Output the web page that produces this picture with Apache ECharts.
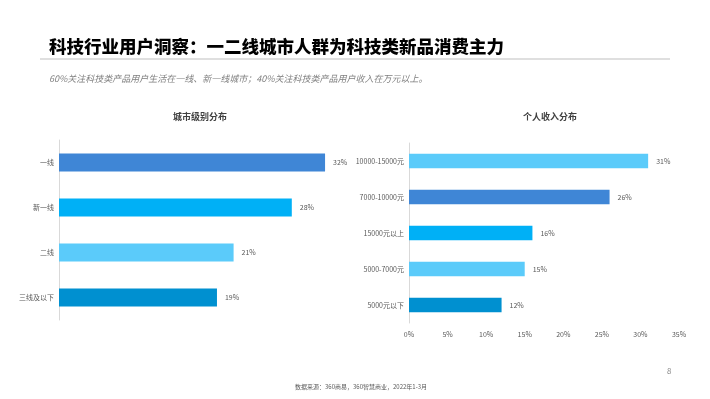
<!DOCTYPE html>
<html>
<head>
<meta charset="utf-8">
<script src="https://cdn.jsdelivr.net/npm/echarts@6/dist/echarts.min.js"></script>
<style>
  html, body { margin: 0; padding: 0; background: #fff; }
  #chart { width: 710px; height: 399px; }
</style>
</head>
<body>
<div id="chart"></div>
<script>
  // 城市级别分布
  var cityLevels = ['一线', '新一线', '二线', '三线及以下'];
  var cityValues = [32, 28, 21, 19];
  var cityColors = ['#3f86d6', '#00b0f6', '#5bcbfa', '#0090d0'];

  // 个人收入分布
  var incomeLevels = ['10000-15000元', '7000-10000元', '15000元以上', '5000-7000元', '5000元以下'];
  var incomeValues = [31, 26, 16, 15, 12];
  var incomeColors = ['#5bcbfa', '#3f86d6', '#00b0f6', '#5bcbfa', '#0090d0'];

  var font = '"Noto Sans CJK SC", "Microsoft YaHei", sans-serif';

  var chart = echarts.init(document.getElementById('chart'));

  function coloredData(values, colors) {
    return values.map(function (v, i) {
      return { value: v, itemStyle: { color: colors[i] } };
    });
  }

  chart.setOption({
    animation: false,
    textStyle: { fontFamily: font },
    title: [
      {
        text: '科技行业用户洞察：一二线城市人群为科技类新品消费主力',
        left: 44, top: 33,
        textStyle: { fontSize: 17.5, fontWeight: 900, color: '#000', fontFamily: font }
      },
      {
        text: '60%关注科技类产品用户生活在一线、新一线城市；40%关注科技类产品用户收入在万元以上。',
        left: 44, top: 69,
        textStyle: { fontSize: 9, fontStyle: 'italic', fontWeight: 'normal', color: '#7f7f7f', fontFamily: font }
      },
      {
        text: '城市级别分布',
        left: 195, top: 107, textAlign: 'center',
        textStyle: { fontSize: 9, fontWeight: 'bold', color: '#404040', fontFamily: font }
      },
      {
        text: '个人收入分布',
        left: 545, top: 107, textAlign: 'center',
        textStyle: { fontSize: 9, fontWeight: 'bold', color: '#404040', fontFamily: font }
      },
      {
        text: '8',
        left: 662, top: 362,
        textStyle: { fontSize: 8, fontWeight: 'normal', color: '#8c8c8c', fontFamily: font }
      },
      {
        text: '数据来源：360商易，360智慧商业，2022年1-3月',
        left: 290, top: 379,
        textStyle: { fontSize: 6, fontWeight: 'normal', color: '#595959', fontFamily: font }
      }
    ],
    graphic: [
      {
        type: 'line',
        shape: { x1: 40, y1: 59, x2: 670, y2: 59 },
        style: { stroke: '#bfbfbf', lineWidth: 1 }
      }
    ],
    grid: [
      { left: 59, top: 140, width: 291, height: 180 },
      { left: 409, top: 143, width: 270, height: 180 }
    ],
    xAxis: [
      {
        gridIndex: 0, type: 'value', min: 0, max: 35, show: false
      },
      {
        gridIndex: 1, type: 'value', min: 0, max: 35, interval: 5,
        axisLine: { show: false },
        axisTick: { show: false },
        splitLine: { show: false },
        axisLabel: { formatter: '{value}%', fontSize: 7, color: '#595959', margin: 8 }
      }
    ],
    yAxis: [
      {
        gridIndex: 0, type: 'category', data: cityLevels, inverse: true,
        axisLine: { lineStyle: { color: '#d9d9d9' } },
        axisTick: { show: false },
        axisLabel: { fontSize: 7, color: '#595959', margin: 5 }
      },
      {
        gridIndex: 1, type: 'category', data: incomeLevels, inverse: true,
        axisLine: { lineStyle: { color: '#d9d9d9' } },
        axisTick: { show: false },
        axisLabel: { fontSize: 7, color: '#595959', margin: 5 }
      }
    ],
    series: [
      {
        type: 'bar', xAxisIndex: 0, yAxisIndex: 0,
        data: coloredData(cityValues, cityColors),
        barWidth: '40%',
        label: { show: true, position: 'right', distance: 8, formatter: '{c}%', fontSize: 7, color: '#595959' }
      },
      {
        type: 'bar', xAxisIndex: 1, yAxisIndex: 1,
        data: coloredData(incomeValues, incomeColors),
        barWidth: '40%',
        label: { show: true, position: 'right', distance: 8, formatter: '{c}%', fontSize: 7, color: '#595959' }
      }
    ]
  });
</script>
</body>
</html>
